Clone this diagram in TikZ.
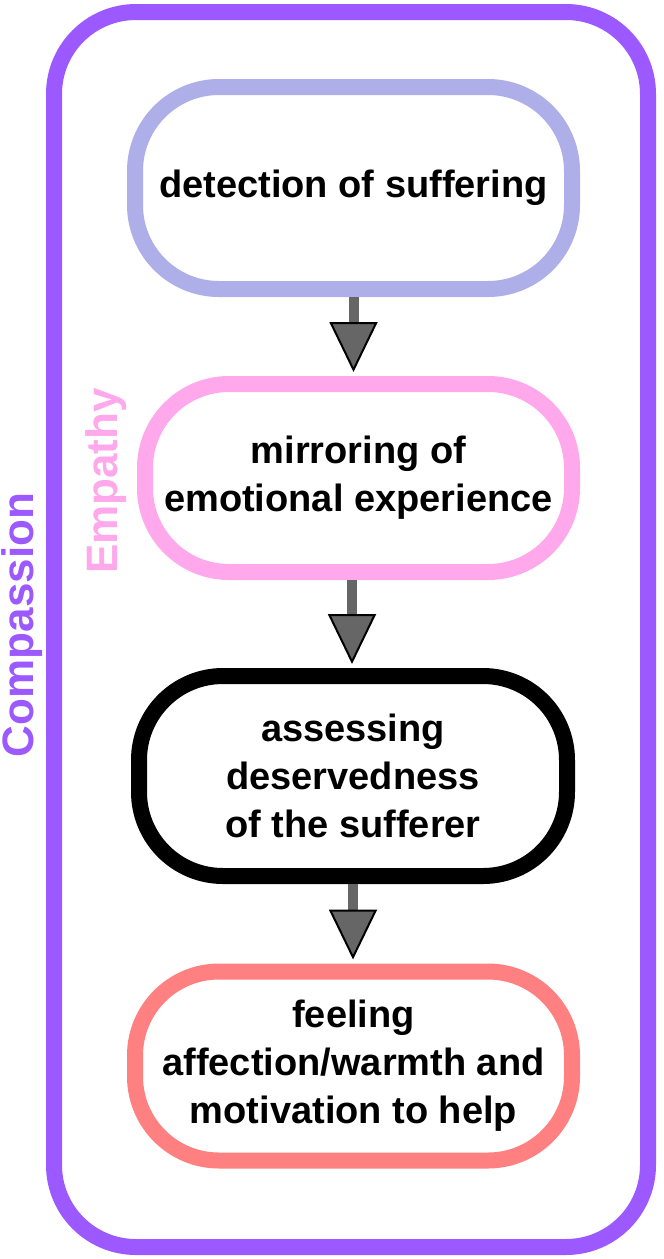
\documentclass[tikz,border=0pt]{standalone}
\usepackage{fontspec}
\setmainfont{Liberation Sans}
\usetikzlibrary{arrows.meta}
\definecolor{cpurple}{HTML}{9B59FF}
\definecolor{clav}{HTML}{AEAEE8}
\definecolor{cpink}{HTML}{FFA8EC}
\definecolor{csalmon}{HTML}{FF8080}
\definecolor{cgray}{HTML}{666666}
\tikzset{
  stagebox/.style={draw=#1, line width=16pt, rounded corners=84pt, fill=white, align=center,
    font=\fontsize{38}{48}\selectfont\bfseries, inner sep=0pt},
  flowarrow/.style={draw=cgray, line width=10pt, shorten >=4pt,
    -{Triangle[length=50pt 0 0, width=48pt 0 0, color=black, fill=cgray, line width=2pt 0 0]}},
  sidelabel/.style={font=\fontsize{44}{50}\selectfont\bfseries, text=#1, rotate=90, inner sep=0pt}
}
\begin{document}
\begin{tikzpicture}[x=1pt,y=-1pt]
\useasboundingbox (0,0) rectangle (664,1259);
\draw[cpurple, line width=16pt, rounded corners=82pt] (54,12) rectangle (648,1247);
\node[sidelabel=cpurple] (comp) at (22,625) {Compassion};
\node[sidelabel=cpink] (emp) at (106,481) {Empathy};
\node[stagebox=clav, minimum width=437pt, minimum height=202pt] (b1) at (353.5,188) {detection of suffering};
\node[stagebox=cpink, minimum width=427pt, minimum height=188pt] (b2) at (358.5,478) {mirroring of\\emotional experience};
\node[stagebox=black, minimum width=428pt, minimum height=200pt] (b3) at (353,776) {assessing\\deservedness\\of the sufferer};
\node[stagebox=csalmon, minimum width=437pt, minimum height=189pt] (b4) at (353.5,1066) {feeling\\affection/warmth and\\motivation to help};
\draw[flowarrow] (b1.south) coordinate (a1s) -- (b2.north -| a1s);
\draw[flowarrow] ([xshift=-6.5pt]b2.south) coordinate (a2s) -- (b3.north -| a2s);
\draw[flowarrow] (b3.south) coordinate (a3s) -- (b4.north -| a3s);
\end{tikzpicture}
\end{document}
